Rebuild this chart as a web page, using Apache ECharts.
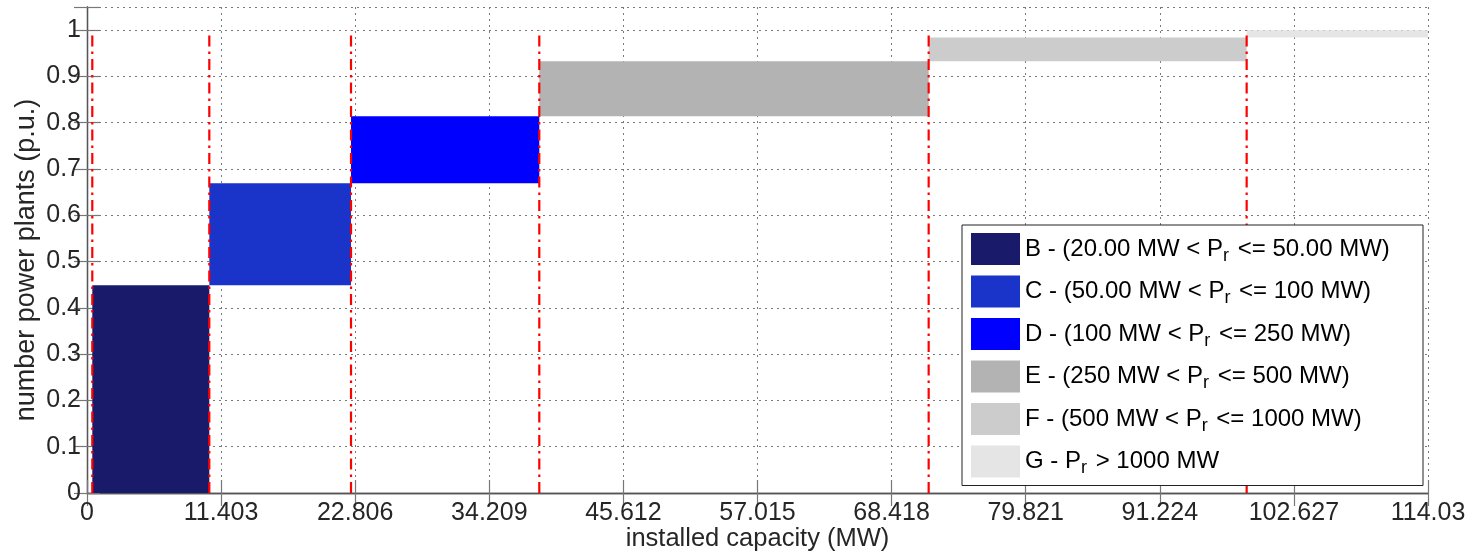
<!DOCTYPE html>
<html>
<head>
<meta charset="utf-8">
<script src="https://cdn.jsdelivr.net/npm/echarts@6/dist/echarts.min.js"></script>
<style>
html,body{margin:0;padding:0;background:#fff;}
#chart{width:1473px;height:553px;}
</style>
</head>
<body>
<div id="chart"></div>
<script>
const classNames = ['B', 'C', 'D', 'E', 'F', 'G'];
const classLabels = [
  'B - (20.00 MW < P{sub|r} <= 50.00 MW)',
  'C - (50.00 MW < P{sub|r} <= 100 MW)',
  'D - (100 MW < P{sub|r} <= 250 MW)',
  'E - (250 MW < P{sub|r} <= 500 MW)',
  'F - (500 MW < P{sub|r} <= 1000 MW)',
  'G - P{sub|r} > 1000 MW'
];
const classColors = ['#1a1a6b', '#1a33c8', '#0000ff', '#b3b3b3', '#cccccc', '#e5e5e5'];
const xStart = [0.45, 10.40, 22.45, 38.46, 71.57, 98.61];
const xEnd   = [10.40, 22.45, 38.46, 71.57, 98.61, 114.03];
const yLow   = [0, 0.449, 0.669, 0.814, 0.933, 0.984];
const yHigh  = [0.449, 0.669, 0.814, 0.933, 0.984, 1.0];
const boundaries = [0.45, 10.40, 22.45, 38.46, 71.57, 98.61];
const xTickStep = 11.403;
const xMax = 114.03;
const yMax = 1.05;

const FONT = 'Liberation Sans, Arial, sans-serif';
const TXT = '#262626';

const rectSeries = classNames.map((name, i) => ({
  name: name,
  type: 'custom',
  xAxisIndex: 0, yAxisIndex: 0,
  itemStyle: { color: classColors[i] },
  data: [[xStart[i], xEnd[i], yLow[i], yHigh[i]]],
  encode: { x: [0, 1], y: [2, 3] },
  z: 2,
  renderItem: function (params, api) {
    const p1 = api.coord([api.value(0), api.value(3)]);
    const p2 = api.coord([api.value(1), api.value(2)]);
    return {
      type: 'rect',
      shape: { x: p1[0], y: p1[1], width: p2[0] - p1[0], height: p2[1] - p1[1] },
      style: { fill: classColors[i] }
    };
  }
}));

const lineSeries = {
  name: 'bounds',
  type: 'custom',
  xAxisIndex: 0, yAxisIndex: 0,
  z: 5,
  data: boundaries.map(b => [b, 0, 1]),
  encode: { x: 0, y: [1, 2] },
  renderItem: function (params, api) {
    const a = api.coord([api.value(0), api.value(1)]);
    const b = api.coord([api.value(0), api.value(2)]);
    return {
      type: 'line',
      shape: { x1: a[0], y1: a[1], x2: b[0], y2: b[1] },
      style: { stroke: '#ff0000', lineWidth: 2.2, lineDash: [11, 5, 2.5, 5] }
    };
  }
};

const labelMap = {};
classNames.forEach((n, i) => labelMap[n] = classLabels[i]);

const gridLine = { show: true, lineStyle: { color: '#7a7a7a', width: 1, type: [2, 4] } };
const axLine = { show: true, lineStyle: { color: '#555', width: 1.3 } };
const axTick = { show: true, inside: true, length: 13, lineStyle: { color: '#777', width: 1.2 } };

const option = {
  animation: false,
  backgroundColor: '#fff',
  grid: { left: 87, right: 45, top: 7, bottom: 60, containLabel: false, outerBoundsMode: 'none' },
  xAxis: [{
    type: 'value', min: 0, max: xMax, interval: xTickStep,
    position: 'bottom',
    name: 'installed capacity (MW)', nameLocation: 'middle', nameGap: 33, nameMoveOverlap: false,
    nameTextStyle: { fontFamily: FONT, fontSize: 25.5, color: TXT },
    axisLine: axLine, axisTick: axTick, splitLine: gridLine,
    axisLabel: { fontFamily: FONT, fontSize: 25, color: TXT, margin: 8,
      formatter: v => String(+(+v).toFixed(3)) }
  }, {
    type: 'value', min: 0, max: xMax, interval: xTickStep,
    position: 'top',
    axisLine: axLine, axisTick: axTick, splitLine: { show: false },
    axisLabel: { show: false }
  }],
  yAxis: [{
    type: 'value', min: 0, max: yMax, interval: 0.1,
    position: 'left',
    name: 'number power plants (p.u.)', nameLocation: 'middle', nameGap: 47, nameMoveOverlap: false,
    nameTextStyle: { fontFamily: FONT, fontSize: 27, color: TXT, padding: [0, 20, 0, 0] },
    axisLine: axLine, axisTick: axTick, splitLine: gridLine,
    axisLabel: { fontFamily: FONT, fontSize: 25, color: TXT, margin: 6,
      formatter: v => (v > 1.001 ? '' : String(+(+v).toFixed(2))) }
  }, {
    type: 'value', min: 0, max: yMax, interval: 0.1,
    position: 'right',
    axisLine: axLine, axisTick: axTick, splitLine: { show: false },
    axisLabel: { show: false }
  }],
  legend: {
    orient: 'vertical',
    left: 962, top: 225,
    padding: [8, 9, 8, 9],
    itemGap: 10.5,
    itemWidth: 49, itemHeight: 32,
    icon: 'rect',
    backgroundColor: '#fff',
    borderColor: '#222', borderWidth: 1,
    data: classNames,
    formatter: name => labelMap[name],
    textStyle: {
      fontFamily: FONT, fontSize: 24, color: '#000', lineHeight: 32, width: 389,
      rich: {
        sub: { fontFamily: FONT, fontSize: 18, color: '#000', lineHeight: 8, verticalAlign: 'bottom', padding: [0, 2, 0, 0] }
      }
    },
    selectedMode: false,
    z: 10
  },
  series: [...rectSeries, lineSeries]
};

const chart = echarts.init(document.getElementById('chart'), null, { renderer: 'canvas' });
chart.setOption(option);
</script>
</body>
</html>
